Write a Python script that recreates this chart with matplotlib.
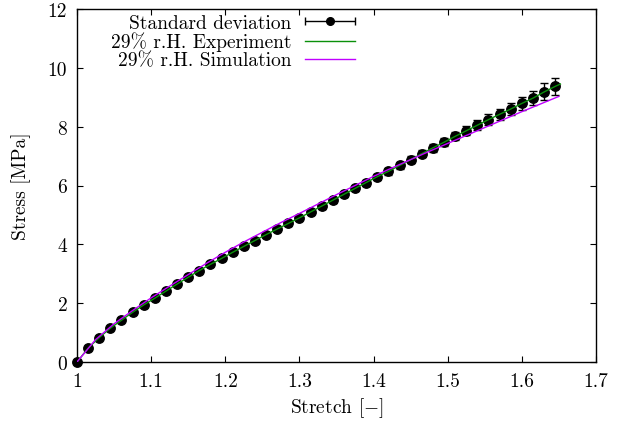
import numpy as np
import matplotlib
matplotlib.use("Agg")
import matplotlib.pyplot as plt
from matplotlib.container import ErrorbarContainer
from matplotlib.legend_handler import HandlerErrorbar

plt.rcParams["font.family"] = ["cmr10", "DejaVu Serif"]
plt.rcParams["mathtext.fontset"] = "cm"
plt.rcParams["axes.formatter.use_mathtext"] = True
plt.rcParams["font.size"] = 14

# experiment: mean stress at every 0.015 of stretch, with standard deviation
stretch = np.round(np.arange(44) * 0.015 + 1.0, 3)
stress_mean = [0.00, 0.47, 0.83, 1.15, 1.42, 1.69, 1.94, 2.17, 2.41, 2.65, 2.88,
               3.11, 3.32, 3.52, 3.73, 3.93, 4.13, 4.33, 4.52, 4.71, 4.90, 5.10,
               5.30, 5.50, 5.70, 5.90, 6.10, 6.30, 6.48, 6.68, 6.88, 7.08, 7.28,
               7.47, 7.67, 7.86, 8.05, 8.24, 8.42, 8.60, 8.79, 8.97, 9.18, 9.37]
stress_std = [0.00, 0.01, 0.02, 0.02, 0.03, 0.03, 0.03, 0.04, 0.04, 0.04, 0.05,
              0.05, 0.05, 0.06, 0.06, 0.06, 0.07, 0.07, 0.07, 0.08, 0.08, 0.08,
              0.09, 0.09, 0.09, 0.10, 0.10, 0.10, 0.11, 0.11, 0.12, 0.12, 0.13,
              0.13, 0.14, 0.15, 0.16, 0.18, 0.19, 0.20, 0.22, 0.24, 0.29, 0.30]

# experiment curve continues a bit past the last marker
exp_x = list(stretch) + [1.652]
exp_y = stress_mean + [9.45]

# simulation
sim_x = [1.000, 1.025, 1.050, 1.075, 1.100, 1.125, 1.150, 1.175, 1.200, 1.225,
         1.250, 1.275, 1.300, 1.325, 1.350, 1.375, 1.400, 1.425, 1.450, 1.475,
         1.500, 1.525, 1.550, 1.575, 1.600, 1.625, 1.650]
sim_y = [0.00, 0.76, 1.30, 1.75, 2.18, 2.58, 2.97, 3.36, 3.73, 4.08,
         4.41, 4.74, 5.05, 5.37, 5.69, 6.00, 6.31, 6.60, 6.88, 7.16,
         7.43, 7.70, 7.97, 8.24, 8.51, 8.77, 9.03]

xticks = [1.0, 1.1, 1.2, 1.3, 1.4, 1.5, 1.6, 1.7]
xtick_labels = ["1", "1.1", "1.2", "1.3", "1.4", "1.5", "1.6", "1.7"]
yticks = [0, 2, 4, 6, 8, 10, 12]
ytick_labels = ["0", "2", "4", "6", "8", "10", "12"]

GREEN = "#0a900a"
MAGENTA = "#c000ff"

fig = plt.figure(figsize=(6.3, 4.27), dpi=100)
ax = fig.add_axes([77 / 630, 1 - 363 / 427, (596 - 77) / 630, (363 - 10) / 427])

eb = ax.errorbar(stretch, stress_mean, yerr=stress_std, fmt="o", color="black",
                 markersize=6.8, elinewidth=1.0, capsize=3, capthick=1.0,
                 zorder=2, clip_on=False)
# proxy only for the legend sample (horizontal bar, as in gnuplot)
proxy = ax.errorbar([np.nan], [np.nan], xerr=[np.nan], fmt="o", color="black",
                    markersize=5.5, elinewidth=1.0, capsize=3, capthick=1.0)
l_exp, = ax.plot(exp_x, exp_y, color=GREEN, lw=1.0, zorder=3)
l_sim, = ax.plot(sim_x, sim_y, color=MAGENTA, lw=1.0, zorder=4)

ax.set_xlim(1.0, 1.7)
ax.set_ylim(0, 12)
ax.set_xticks(xticks)
ax.set_xticklabels(xtick_labels)
ax.set_yticks(yticks)
ax.set_yticklabels(ytick_labels)
ax.tick_params(direction="in", length=4.5, width=0.8, top=True, right=True, pad=7)
for s in ax.spines.values():
    s.set_linewidth(1.0)

ax.set_xlabel(r"Stretch [$-$]", labelpad=4)
ax.set_ylabel("Stress [MPa]", labelpad=12)

leg = ax.legend([proxy, l_exp, l_sim],
                ["Standard deviation", "29% r.H. Experiment", "29% r.H. Simulation"],
                loc="upper right", bbox_to_anchor=(0.555, 1.014), markerfirst=False,
                frameon=False, handlelength=2.6, handletextpad=0.7,
                labelspacing=0.0, borderaxespad=0.1,
                handler_map={ErrorbarContainer: HandlerErrorbar(xerr_size=1.3)})

fig.savefig("out.png", dpi=100)
